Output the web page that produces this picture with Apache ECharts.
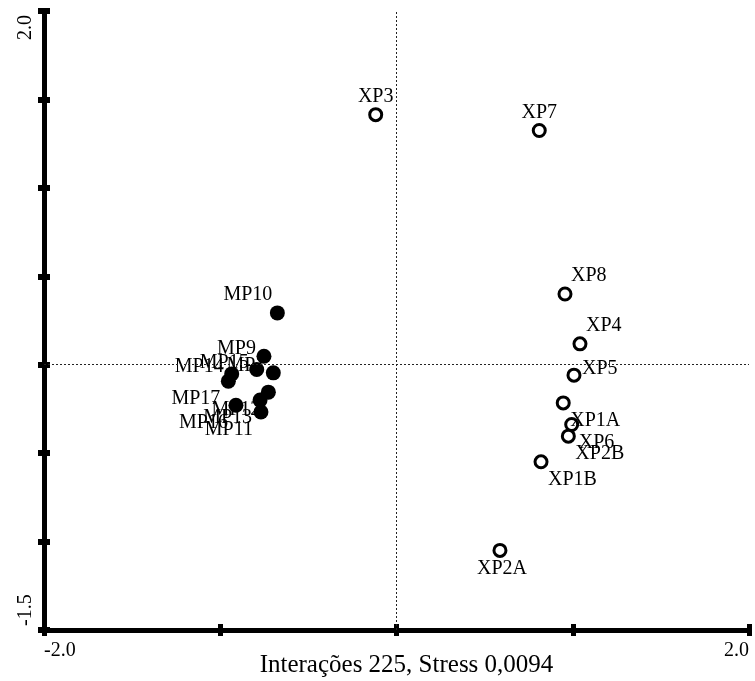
<!DOCTYPE html>
<html>
<head>
<meta charset="utf-8">
<script src="https://cdn.jsdelivr.net/npm/echarts@6/dist/echarts.min.js"></script>
<style>html,body{margin:0;padding:0;background:#fff}#c{width:755px;height:681px}</style>
</head>
<body>
<div id="c"></div>
<script>
// ---- data ----
const xpNames = ['XP3', 'XP7', 'XP8', 'XP4', 'XP5', 'XP1A', 'XP6', 'XP2B', 'XP1B', 'XP2A'];
const xpX = [-0.118, 0.810, 0.956, 1.041, 1.007, 0.946, 0.994, 0.975, 0.820, 0.587];
const xpY = [1.414, 1.324, 0.400, 0.118, -0.059, -0.216, -0.338, -0.404, -0.549, -1.050];

const mpNames = ['MP10', 'MP9', 'MP15', 'MP1', 'MP14', 'MP17', 'MP12', 'MP13', 'MP16', 'MP11'];
const mpX = [-0.676, -0.752, -0.793, -0.699, -0.935, -0.954, -0.727, -0.774, -0.911, -0.769];
const mpY = [0.293, 0.048, -0.027, -0.046, -0.052, -0.093, -0.155, -0.200, -0.229, -0.267];

const xTickLabels = ['-2.0', '2.0'];
const yTickLabels = ['-1.5', '2.0'];
const axisTitle = 'Interações 225, Stress 0,0094';

// ---- label placement (layout, not data) ----
const xpPlace = ['u', 'u', 'ur', 'ur', 'r', 'dr', 'dr', 'dr', 'dr', 'd'];
const mpPlace = ['ul', 'l', 'l', 'l', 'l', 'dl', 'dl', 'dl', 'dl', 'dl'];
const placements = {
  u: [0, -18, 'center'], d: [2, 18, 'center'],
  ur: [6, -18, 'left'], dr: [7, 18, 'left'], r: [8, -6, 'left'],
  ul: [-5, -18, 'right'], l: [-8, -7, 'right'], dl: [-8, 18, 'right']
};
const FONT = 'Liberation Serif';

function buildData(names, xs, ys, places) {
  return names.map((n, i) => {
    const p = placements[places[i]];
    return {
      name: n, value: [xs[i], ys[i]],
      label: { align: p[2], offset: [p[0], p[1]] }
    };
  });
}

const labelBase = {
  show: true, position: 'inside', verticalAlign: 'middle',
  formatter: '{b}', color: '#000', fontFamily: FONT, fontSize: 20
};

function fmt(labels) {
  return v => {
    const s = (Math.abs(v) < 1e-9 ? 0 : v).toFixed(1);
    return labels.indexOf(s) >= 0 ? s : '';
  };
}

const axisCommon = {
  type: 'value',
  axisLine: { show: true, onZero: false, lineStyle: { color: '#000', width: 5 } },
  splitLine: { show: false }
};
const tickStyle = { color: '#000', width: 5 };

const chart = echarts.init(document.getElementById('c'));
chart.setOption({
  animation: false,
  backgroundColor: '#fff',
  grid: { left: 44, right: 6, top: 11, bottom: 51, containLabel: false, outerBoundsMode: 'none' },
  xAxis: [
    Object.assign({}, axisCommon, {
      min: -2, max: 2, interval: 1,
      axisTick: { show: true, inside: false, length: 6, lineStyle: tickStyle },
      axisLabel: {
        show: true, formatter: fmt(xTickLabels), color: '#000', fontFamily: FONT, fontSize: 20,
        margin: 11, showMinLabel: true, showMaxLabel: true,
        alignMinLabel: 'left', alignMaxLabel: 'right'
      },
      name: axisTitle, nameLocation: 'middle', nameGap: 23, nameMoveOverlap: false,
      nameTextStyle: { color: '#000', fontFamily: FONT, fontSize: 25, padding: [0, 0, 0, 20] }
    }),
    Object.assign({}, axisCommon, {
      min: -2, max: 2, interval: 1, position: 'bottom', offset: 0,
      axisLine: { show: false, onZero: false },
      axisTick: { show: true, inside: true, length: 6, lineStyle: tickStyle },
      axisLabel: { show: false }
    })
  ],
  yAxis: [
    Object.assign({}, axisCommon, {
      min: -1.5, max: 2, interval: 0.5,
      axisTick: { show: true, inside: false, length: 6, lineStyle: { color: '#000', width: 6 } },
      axisLabel: {
        show: true, formatter: fmt(yTickLabels), color: '#000', fontFamily: FONT, fontSize: 20,
        rotate: 90, margin: 8, showMinLabel: true, showMaxLabel: true,
        alignMinLabel: 'left', alignMaxLabel: 'right', padding: [0, 4, 0, 4]
      }
    }),
    Object.assign({}, axisCommon, {
      min: -1.5, max: 2, interval: 0.5, position: 'left', offset: 0,
      axisLine: { show: false, onZero: false },
      axisTick: { show: true, inside: true, length: 6, lineStyle: { color: '#000', width: 6 } },
      axisLabel: { show: false }
    })
  ],
  series: [
    {
      type: 'scatter', name: 'MP', symbol: 'circle', symbolSize: 15,
      itemStyle: { color: '#000', opacity: 1 },
      label: labelBase,
      data: buildData(mpNames, mpX, mpY, mpPlace),
      markLine: {
        silent: true, symbol: 'none', label: { show: false },
        lineStyle: { color: '#222', width: 1, type: [2, 2] },
        data: [{ xAxis: 0 }, { yAxis: 0 }]
      }
    },
    {
      type: 'scatter', name: 'XP', symbol: 'circle', symbolSize: 12,
      itemStyle: { color: '#fff', borderColor: '#000', borderWidth: 3, opacity: 1 },
      label: labelBase,
      data: buildData(xpNames, xpX, xpY, xpPlace)
    }
  ]
});
</script>
</body>
</html>
